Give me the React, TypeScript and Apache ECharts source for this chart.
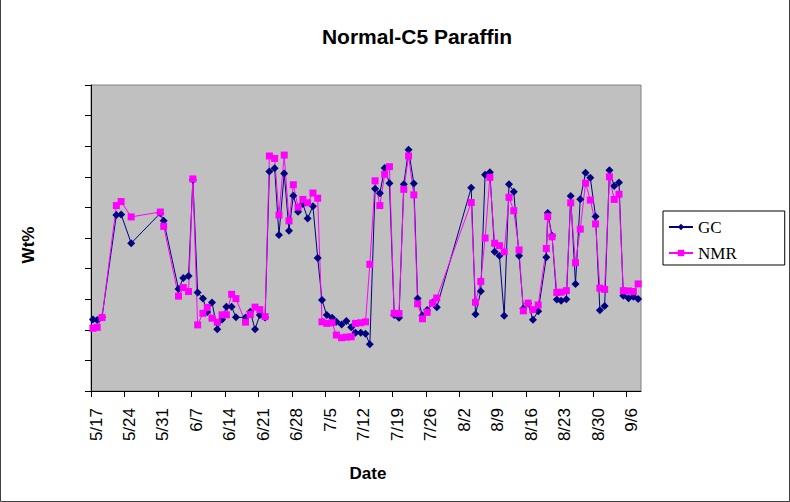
import React, { useEffect, useRef } from "react";
import * as echarts from "echarts";

// Sample times, in days after 5/17
const sampleDays = [
  0.4, 1.3, 2.3, 5.3, 6.3, 8.4, 14.5, 15.2, 18.3, 19.3,
  20.4, 21.3, 22.3, 23.4, 24.3, 25.3, 26.4, 27.4, 28.3, 29.4,
  30.3, 32.3, 33.3, 34.3, 35.3, 36.4, 37.3, 38.4, 39.3, 40.4,
  41.4, 42.3, 43.3, 44.3, 45.3, 46.4, 47.4, 48.3, 49.3, 50.4,
  51.3, 52.4, 53.4, 54.4, 55.3, 56.4, 57.4, 58.3, 59.4, 60.4,
  61.4, 62.4, 63.4, 64.4, 65.4, 66.4, 67.5, 68.3, 69.3, 70.3,
  71.4, 72.3, 79.5, 80.4, 81.5, 82.4, 83.4, 84.4, 85.4, 86.4,
  87.4, 88.4, 89.5, 90.4, 91.4, 92.4, 93.5, 95.2, 95.5, 96.4,
  97.4, 98.3, 99.4, 100.3, 101.3, 102.3, 103.4, 104.4, 105.5, 106.4,
  107.4, 108.4, 109.4, 110.4, 111.3, 112.4, 113.4, 114.4,
];

const gcValues = [
  2.34, 2.32, 2.41, 5.75, 5.77, 4.83, 5.81, 5.56, 3.33, 3.69,
  3.76, 6.9, 3.22, 3.02, 2.58, 2.89, 2.02, 2.34, 2.75, 2.75,
  2.41, 2.4, 2.59, 2.02, 2.48, 2.4, 7.17, 7.28, 5.1, 7.11,
  5.24, 6.38, 5.86, 6.11, 5.64, 6.04, 4.35, 2.97, 2.48, 2.39,
  2.26, 2.17, 2.29, 2.08, 1.9, 1.9, 1.87, 1.53, 6.61, 6.46,
  7.29, 6.79, 2.48, 2.39, 6.76, 7.88, 6.78, 3.02, 2.47, 2.65,
  2.89, 2.74, 6.64, 2.51, 3.26, 7.07, 7.15, 4.55, 4.42, 2.46,
  6.76, 6.51, 4.42, 2.7, 2.86, 2.33, 2.61, 4.37, 5.82, 5.07,
  2.99, 2.95, 3.0, 6.37, 3.5, 6.27, 7.13, 6.97, 5.7, 2.64,
  2.78, 7.21, 6.7, 6.81, 3.11, 3.03, 3.08, 3.01,
];

const nmrValues = [
  2.05, 2.08, 2.4, 6.06, 6.19, 5.69, 5.85, 5.38, 3.1, 3.38,
  3.25, 6.93, 2.16, 2.54, 2.73, 2.38, 2.25, 2.49, 2.49, 3.16,
  3.02, 2.25, 2.5, 2.74, 2.66, 2.43, 7.68, 7.6, 5.75, 7.71,
  5.56, 6.74, 6.01, 6.26, 6.15, 6.47, 6.3, 2.26, 2.21, 2.23,
  1.83, 1.74, 1.76, 1.77, 2.21, 2.23, 2.26, 4.14, 6.87, 6.06,
  7.08, 7.33, 2.54, 2.53, 6.59, 7.68, 6.41, 2.85, 2.36, 2.57,
  2.87, 3.04, 6.16, 2.9, 3.58, 5.0, 6.98, 4.83, 4.75, 4.55,
  6.33, 5.89, 4.61, 2.62, 2.87, 2.66, 2.81, 4.66, 5.7, 5.04,
  3.22, 3.23, 3.28, 6.15, 4.19, 5.29, 6.79, 6.24, 5.46, 3.36,
  3.32, 7.0, 6.26, 6.43, 3.28, 3.27, 3.25, 3.5,
];

const tickLabels = [
  "5/17", "5/24", "5/31", "6/7", "6/14", "6/21", "6/28", "7/5", "7/12",
  "7/19", "7/26", "8/2", "8/9", "8/16", "8/23", "8/30", "9/6",
];
const tickDays = tickLabels.map((_, i) => i * 7);
const yTicks = [0, 1, 2, 3, 4, 5, 6, 7, 8, 9, 10];

export default function App() {
  const ref = useRef<HTMLDivElement>(null);

  useEffect(() => {
    if (!ref.current) return;
    const chart = echarts.init(ref.current, undefined, { renderer: "svg" });
    const sans = "Liberation Sans, Arial, sans-serif";

    chart.setOption({
      animation: false,
      backgroundColor: "#ffffff",
      title: {
        text: "Normal-C5 Paraffin",
        left: 412,
        top: 21,
        textAlign: "center",
        textStyle: { fontFamily: sans, fontSize: 21, fontWeight: "bold", color: "#000" },
      },
      grid: {
        left: 91,
        right: 149,
        top: 85,
        bottom: 111,
        show: true,
        backgroundColor: "#c0c0c0",
        borderColor: "#808080",
        borderWidth: 1,
      },
      legend: {
        orient: "vertical",
        left: 663,
        top: 211,
        padding: [7, 48, 3, 5],
        itemWidth: 24,
        itemHeight: 8,
        itemGap: 8,
        borderColor: "#000",
        borderWidth: 1,
        backgroundColor: "#ffffff",
        textStyle: { fontFamily: "Liberation Serif, serif", fontSize: 17, color: "#000", lineHeight: 18 },
        data: ["GC", "NMR"],
      },
      xAxis: {
        type: "value",
        min: 0,
        max: 115,
        interval: 7,
        splitLine: { show: false },
        axisLine: { lineStyle: { color: "#000", width: 1 } },
        axisTick: { customValues: tickDays, length: 6, lineStyle: { color: "#000" } },
        axisLabel: {
          customValues: tickDays,
          rotate: 90,
          margin: 17,
          fontFamily: sans,
          fontSize: 17,
          color: "#000",
          verticalAlign: "top",
          lineHeight: 10,
          formatter: (v: number) => tickLabels[Math.round(v / 7)] ?? "",
        },
      },
      yAxis: {
        type: "value",
        min: 0,
        max: 10,
        interval: 1,
        splitLine: { show: false },
        axisLine: { show: true, lineStyle: { color: "#000", width: 1 } },
        axisTick: { show: true, customValues: yTicks, length: 6, lineStyle: { color: "#000" } },
        axisLabel: { show: false },
      },
      graphic: [
        {
          type: "text",
          x: 28,
          y: 245,
          rotation: Math.PI / 2,
          style: {
            text: "Wt%",
            font: "bold 17px Liberation Sans, Arial, sans-serif",
            fill: "#000",
            textAlign: "center",
            textVerticalAlign: "middle",
          },
        },
        {
          type: "text",
          x: 368,
          y: 473,
          style: {
            text: "Date",
            font: "bold 17px Liberation Sans, Arial, sans-serif",
            fill: "#000",
            textAlign: "center",
            textVerticalAlign: "middle",
          },
        },
        {
          type: "polyline",
          shape: { points: [[0.5, 0], [0.5, 501.5], [789.5, 501.5], [789.5, 0]] },
          style: { stroke: "#404040", lineWidth: 1, fill: "none" },
          silent: true,
        },
      ],
      series: [
        {
          name: "GC",
          type: "line",
          data: sampleDays.map((d, i) => [d, gcValues[i]]),
          symbol: "diamond",
          symbolSize: 8,
          itemStyle: { color: "#000080" },
          lineStyle: { color: "#000080", width: 1 },
        },
        {
          name: "NMR",
          type: "line",
          data: sampleDays.map((d, i) => [d, nmrValues[i]]),
          symbol: "rect",
          symbolSize: 7,
          itemStyle: { color: "#ff00ff" },
          lineStyle: { color: "#ff00ff", width: 1 },
        },
      ],
    });

    return () => chart.dispose();
  }, []);

  return (
    <div
      ref={ref}
      style={{ position: "fixed", left: 0, top: 0, width: 790, height: 502 }}
    />
  );
}
